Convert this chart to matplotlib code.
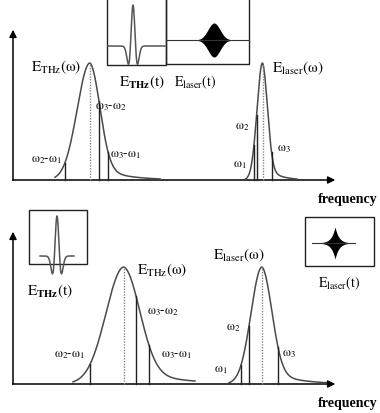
import numpy as np
import matplotlib
matplotlib.use("Agg")
import matplotlib.pyplot as plt
from matplotlib.patches import Rectangle

plt.rcParams["font.family"] = ["Liberation Serif", "DejaVu Serif"]
plt.rcParams["mathtext.fontset"] = "stix"

# Panel geometry (drawing units, y grows downward)
AXIS_X = 13
BASE_Y = [181, 385]
AXIS_TOP = [28, 230]
ARROW_END = [338, 338]
PEAK_H = 117

# Spectra: centre, left width, right width, tail length, start, end
THZ_TOP = [90, 12.8, 10.0, 25, 55, 160]
LASER_TOP = [262.5, 5.5, 5.0, 12, 245, 297]
THZ_BOT = [124, 18.0, 16.0, 40, 73, 195]
LASER_BOT = [262, 11.0, 10.0, 25, 229, 330]
TAIL_W = 0.15

# Frequency markers under each spectrum
THZ_LINES_TOP = [65, 99, 108]
LASER_LINES_TOP = [254, 256.5, 271.5]
THZ_LINES_BOT = [90, 136, 149]
LASER_LINES_BOT = [241, 249, 278]

CURVE_COLOR = "#4a4a4a"


def profile(x, centre, sig_l, sig_r, tail):
    d = x - centre
    left = np.exp(-d ** 2 / (2 * sig_l ** 2))
    right = (1 - TAIL_W) * np.exp(-d ** 2 / (2 * sig_r ** 2)) + TAIL_W * np.exp(-np.abs(d) / tail)
    return np.where(d < 0, left, right)


def draw_spectrum(ax, spec, lines, base):
    centre, sig_l, sig_r, tail, x0, x1 = spec
    x = np.linspace(x0, x1, 400)
    ax.plot(x, base - PEAK_H * profile(x, centre, sig_l, sig_r, tail), color=CURVE_COLOR, lw=1.1)
    ax.plot([centre, centre], [base, base - PEAK_H], color="#888888", lw=1.0, ls=(0, (1, 1)))
    for xl in lines:
        top = base - PEAK_H * profile(np.array(xl), centre, sig_l, sig_r, tail)
        ax.plot([xl, xl], [base, top], color="#222222", lw=1.0)


def draw_axes(ax, i):
    ax.plot([AXIS_X, AXIS_X], [BASE_Y[i], AXIS_TOP[i] + 8], color="k", lw=1.1)
    ax.annotate("", xy=(AXIS_X, AXIS_TOP[i]), xytext=(AXIS_X, AXIS_TOP[i] + 10),
                arrowprops=dict(arrowstyle="-|>", color="k", lw=1.0, mutation_scale=11))
    ax.plot([AXIS_X, ARROW_END[i] - 8], [BASE_Y[i], BASE_Y[i]], color="k", lw=1.1)
    ax.annotate("", xy=(ARROW_END[i], BASE_Y[i]), xytext=(ARROW_END[i] - 10, BASE_Y[i]),
                arrowprops=dict(arrowstyle="-|>", color="k", lw=1.0, mutation_scale=11))


def thz_pulse(ax, xc, yb, amp, s, x0, x1):
    t = np.linspace(x0 - xc, x1 - xc, 300)
    u = t / s
    ax.plot(xc + t, yb - amp * (1 - u ** 2) * np.exp(-u ** 2 / 2), color="#555555", lw=1.1)


def laser_pulse(ax, xc, yb, amp, width, half, x0, x1, sharp=False):
    ax.plot([x0, x1], [yb, yb], color="#333333", lw=0.8)
    t = np.linspace(-half, half, 1200)
    env = np.exp(-np.abs(t) / width) if sharp else np.exp(-t ** 2 / (2 * width ** 2))
    ax.fill_between(xc + t, yb - amp * env, yb + amp * env, color="k", lw=0)


fig = plt.figure(figsize=(3.8, 4.14), dpi=100)
ax = fig.add_axes([0, 0, 1, 1])
ax.set_xlim(0, 380)
ax.set_ylim(414, 0)
ax.axis("off")

for i in range(2):
    draw_axes(ax, i)
    ax.text(318, BASE_Y[i] + 19, "frequency", fontsize=10, fontweight="bold", va="center", ha="left")

draw_spectrum(ax, THZ_TOP, THZ_LINES_TOP, BASE_Y[0])
draw_spectrum(ax, LASER_TOP, LASER_LINES_TOP, BASE_Y[0])
draw_spectrum(ax, THZ_BOT, THZ_LINES_BOT, BASE_Y[1])
draw_spectrum(ax, LASER_BOT, LASER_LINES_BOT, BASE_Y[1])

# time-domain insets
for r in [(107, -3, 59, 69), (166, -3, 83, 68), (29, 211, 58, 54), (305, 218, 69, 49)]:
    ax.add_patch(Rectangle((r[0], r[1]), r[2], r[3], fill=False, ec="#222222", lw=1.0))
thz_pulse(ax, 133, 47, 41, 2.6, 108, 165)
laser_pulse(ax, 214, 41, 17, 6.0, 26, 166, 249)
thz_pulse(ax, 57, 257, 40, 2.6, 40, 74)
laser_pulse(ax, 335, 244, 16, 3.8, 18, 312, 355, sharp=True)

lab = dict(fontsize=11, va="center", ha="left")
small = dict(fontsize=9, va="center", ha="left")


def w(a, b=None):
    if b is None:
        return rf"$\mathrm{{ω_{a}}}$"
    return rf"$\mathrm{{ω_{a}}}$-$\mathrm{{ω_{b}}}$"


ax.text(31, 67, r"$\mathrm{E_{THz}(ω)}$", **lab)
ax.text(119, 82, r"$\mathrm{E}_{\mathbf{THz}}(\mathrm{t})$", **lab)
ax.text(174, 82, r"$\mathrm{E_{laser}(t)}$", fontsize=10, va="center", ha="left")
ax.text(272, 68, r"$\mathrm{E_{laser}(ω)}$", **lab)
ax.text(95, 107, w(3, 2), **small)
ax.text(110, 155, w(3, 1), **small)
ax.text(31, 160, w(2, 1), **small)
ax.text(235, 127, w(2), **small)
ax.text(233, 165, w(1), **small)
ax.text(277, 149, w(3), **small)

ax.text(27, 291, r"$\mathrm{E}_{\mathbf{THz}}(\mathrm{t})$", **lab)
ax.text(137, 270, r"$\mathrm{E_{THz}(ω)}$", **lab)
ax.text(147, 312, w(3, 2), **small)
ax.text(54, 355, w(2, 1), **small)
ax.text(161, 355, w(3, 1), **small)
ax.text(213, 255, r"$\mathrm{E_{laser}(ω)}$", **lab)
ax.text(226, 328, w(2), **small)
ax.text(214, 370, w(1), **small)
ax.text(282, 354, w(3), **small)
ax.text(318, 283, r"$\mathrm{E_{laser}(t)}$", fontsize=10, va="center", ha="left")

fig.savefig("out.png", dpi=100)
